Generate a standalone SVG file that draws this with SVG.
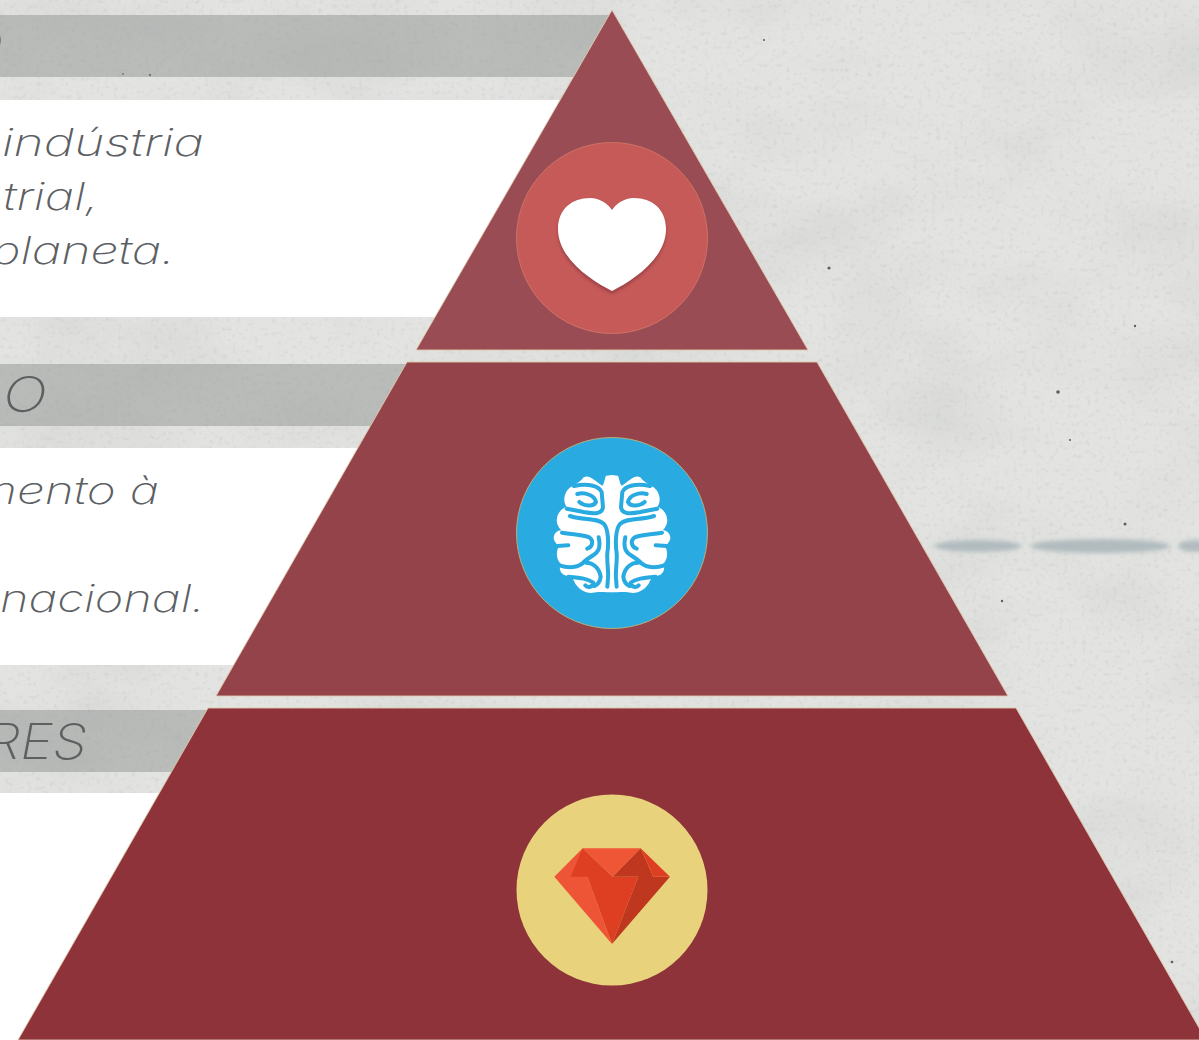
<svg xmlns="http://www.w3.org/2000/svg" xmlns:xlink="http://www.w3.org/1999/xlink" width="1199" height="1040" viewBox="0 0 1199 1040">
<style>
.t{font-family:"Inter","Liberation Sans",sans-serif;font-style:italic;font-weight:200;font-size:38px;fill:#5c6064}
.h{font-size:49px;fill:#5c6061}
.band{fill:#8d908e;opacity:.48}
.tier{stroke:#e0c8ac;stroke-width:.9}
.groove{fill:none;stroke:#29abe2;stroke-width:12;stroke-linecap:round;stroke-linejoin:round}
.speck{fill:#5d5f5c}
</style>
<defs>
<filter id="clouds" x="0" y="0" width="100%" height="100%">
<feTurbulence type="fractalNoise" baseFrequency="0.006 0.01" numOctaves="6" seed="7"/>
<feColorMatrix type="matrix" values="0 0 0 0 .64  0 0 0 0 .65  0 0 0 0 .64  2.6 0 0 0 -1.1"/>
</filter>
<filter id="grain" x="0" y="0" width="100%" height="100%">
<feTurbulence type="fractalNoise" baseFrequency="0.22" numOctaves="3" seed="3"/>
<feColorMatrix type="matrix" values="0 0 0 0 .5  0 0 0 0 .5  0 0 0 0 .5  0 3.2 0 0 -1.75"/>
</filter>
<filter id="soft" x="-10%" y="-10%" width="120%" height="120%"><feGaussianBlur stdDeviation="1.5"/></filter>
<filter id="streak" x="-10%" y="-100%" width="120%" height="300%"><feGaussianBlur stdDeviation="2"/></filter>
<g id="half">
<path fill="#fff" stroke="#fff" stroke-width="6" stroke-linejoin="round" d="M336 168 L320 170 C314 185 316 200 305 200 C290 192 270 165 252 175 C244 190 230 192 212 205 C192 222 192 248 205 262 C182 268 170 288 174 308 C178 325 190 332 194 336 C178 330 164 338 164 355 C166 368 176 372 182 378 C170 392 170 420 188 432 C178 440 182 460 198 464 C208 468 218 470 224 480 C228 495 245 513 272 516 L300 512 L322 514 L336 514 Z"/>
<path class="groove" d="M222 198 C262 190 296 196 305 216 L309 262 C306 282 285 282 250 276 C235 273 222 270 200 266 M232 222 C256 216 284 226 288 246 C280 262 252 258 238 246 M210 288 C250 302 292 292 312 312 C326 328 326 372 322 400 C320 425 326 450 324 475 L322 500 M186 338 C222 344 250 345 268 352 C282 362 278 382 262 386 M172 378 L205 376 M296 352 C302 378 296 396 282 404 C268 414 256 420 248 430 C235 442 208 446 178 436 M258 428 C280 428 298 445 302 470 C300 486 292 494 284 498 M205 470 C245 474 262 476 280 488 C278 502 264 504 256 496"/>
</g>
</defs>

<g id="background">
<rect width="1199" height="1040" fill="#e3e4e1"/>
<rect width="1199" height="1040" filter="url(#clouds)" opacity=".5"/>
<rect width="1199" height="1040" filter="url(#grain)" opacity=".28"/>
<g filter="url(#streak)" fill="#a6b2b7" opacity=".8">
<ellipse cx="978" cy="546" rx="44" ry="6"/>
<ellipse cx="1100" cy="546" rx="70" ry="7"/>
<ellipse cx="1195" cy="546" rx="17" ry="6"/>
</g>
<g class="speck">
<circle cx="1125" cy="524" r="1.5"/><circle cx="1058" cy="392" r="1.8"/><circle cx="829" cy="268" r="1.6"/><circle cx="1172" cy="962" r="1.3"/><circle cx="1002" cy="601" r="1.2"/><circle cx="1135" cy="326" r="1.2"/><circle cx="764" cy="40" r="1"/><circle cx="1070" cy="440" r="1"/><circle cx="150" cy="75" r="1.2"/><circle cx="123" cy="74" r="1"/>
</g>
</g>

<g id="panel-top">
<rect class="band" x="0" y="15" width="612" height="62"/>
<rect x="0" y="100" width="590" height="217" fill="#fff"/>
<text class="t h" x="-34" y="62">O</text>
<text class="t" x="2" y="156" textLength="202" lengthAdjust="spacingAndGlyphs">indústria</text>
<text class="t" x="3" y="210" textLength="96" lengthAdjust="spacingAndGlyphs">trial,</text>
<text class="t" x="-9" y="264" textLength="184" lengthAdjust="spacingAndGlyphs">planeta.</text>
</g>
<g id="panel-middle">
<rect class="band" x="0" y="364" width="412" height="62"/>
<rect x="0" y="448" width="360" height="217" fill="#fff"/>
<text class="t h" x="-34" y="412" textLength="81" lengthAdjust="spacingAndGlyphs">ÃO</text>
<text class="t" x="-26" y="504" textLength="185" lengthAdjust="spacingAndGlyphs">mento à</text>
<text class="t" x="0" y="612" textLength="205" lengthAdjust="spacingAndGlyphs">nacional.</text>
</g>
<g id="panel-bottom">
<rect class="band" x="0" y="710" width="210" height="62"/>
<rect x="0" y="793" width="170" height="247" fill="#fff"/>
<text class="t h" x="-14" y="759" textLength="101" lengthAdjust="spacingAndGlyphs">RES</text>
</g>

<g id="tier-top">
<polygon class="tier" points="612,10 808,350 416,350" fill="#994c53"/>
<circle cx="612" cy="238" r="95.5" fill="#c55a58" stroke="#d57a68" stroke-width=".8"/>
<path id="heart-shadow" fill="#8f3b42" opacity=".7" filter="url(#soft)" d="M612 294 C592 284 558 262 558 232 C558 212 572 200 590 200 C600 200 608 206 612 212 C616 206 624 200 634 200 C652 200 666 212 666 232 C666 262 632 284 612 294Z"/>
<path fill="#fff" d="M612 291 C592 281 558 259 558 229 C558 209 572 198 590 198 C600 198 608 204 612 210 C616 204 624 198 634 198 C652 198 666 209 666 229 C666 259 632 281 612 291Z"/>
</g>
<g id="tier-middle">
<polygon class="tier" points="407,362 817,362 1008,696 216,696" fill="#95434a"/>
<circle cx="612" cy="533" r="95.5" fill="#29abe2" stroke="#b5ad7c" stroke-width="1"/>
<g transform="translate(500 420) scale(.3333)">
<use xlink:href="#half" href="#half"/>
<use xlink:href="#half" href="#half" transform="translate(672 0) scale(-1 1)"/>
</g>
</g>
<g id="tier-bottom">
<polygon class="tier" points="208,708 1016,708 1206,1040 18,1040" fill="#8f333b"/>
<circle cx="612" cy="890" r="95.5" fill="#e8d27c"/>
<g transform="translate(500 780) scale(.3333)">
<polygon points="163,290 248,205 262,290 336,492" fill="#ee5536"/>
<polygon points="248,205 422,205 338,290" fill="#ef5636"/>
<polygon points="248,205 338,290 415,290 336,492 262,290 212,290" fill="#de3f22"/>
<polygon points="422,205 338,290 415,290 336,492 510,290 460,290" fill="#bf371f"/>
<polygon points="422,205 510,290 460,290" fill="#de3f22"/>
</g>
</g>
<g id="connectors"/>
</svg>
